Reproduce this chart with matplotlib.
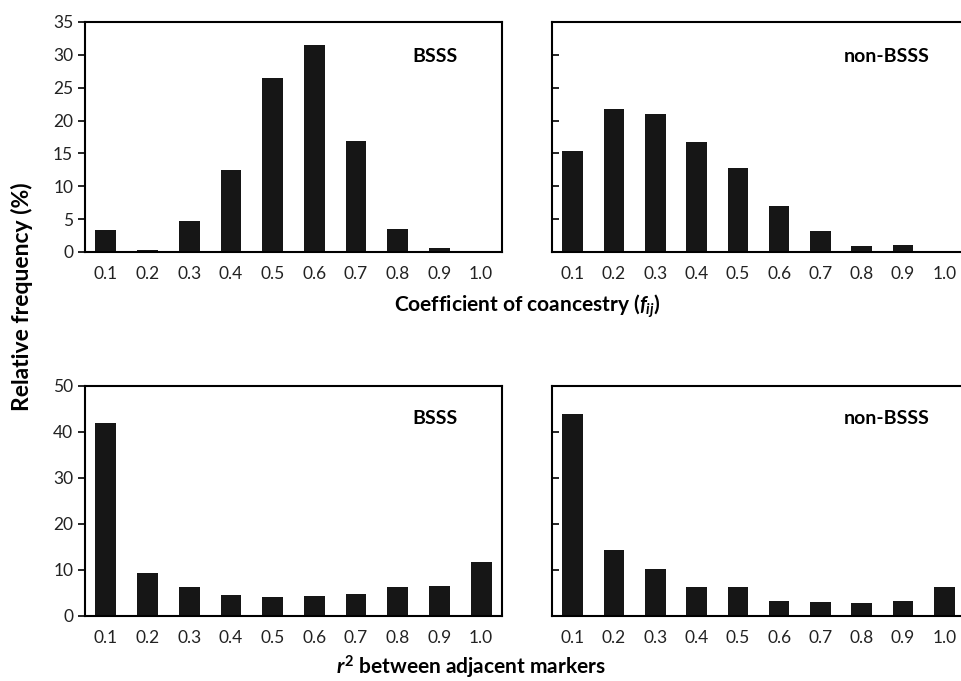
import numpy as np
import matplotlib.pyplot as plt

plt.rcParams['font.family'] = ['Lato', 'DejaVu Sans']
plt.rcParams['mathtext.fontset'] = 'custom'
plt.rcParams['mathtext.it'] = 'Lato:bold:italic'
plt.rcParams['mathtext.bf'] = 'Lato:bold'
plt.rcParams['mathtext.rm'] = 'Lato:bold'

cats = ['0.1', '0.2', '0.3', '0.4', '0.5', '0.6', '0.7', '0.8', '0.9', '1.0']

coan_bsss = [3.4, 0.3, 4.7, 12.5, 26.5, 31.5, 16.9, 3.45, 0.56, 0.0]
coan_non = [15.4, 21.8, 21.0, 16.7, 12.75, 7.06, 3.2, 0.86, 1.0, 0.0]
r2_bsss = [41.9, 9.4, 6.3, 4.6, 4.06, 4.3, 4.8, 6.2, 6.5, 11.8]
r2_non = [44.0, 14.3, 10.2, 6.3, 6.2, 3.3, 3.0, 2.8, 3.2, 6.3]

W, H = 962, 681
fig = plt.figure(figsize=(W / 100, H / 100), dpi=100)

def px_axes(x0, y0, x1, y1):
    return fig.add_axes([x0 / W, 1 - y1 / H, (x1 - x0) / W, (y1 - y0) / H])

def panel(ax, vals, ymax, step, label, lx, ly, left):
    x = np.arange(len(cats))
    ax.bar(x, vals, width=0.5, color='#161616')
    ax.set_xlim(-0.5, len(cats) - 0.5)
    ax.set_ylim(0, ymax)
    ax.set_yticks(np.arange(0, ymax + 1, step))
    ax.set_xticks(x)
    ax.set_xticklabels(cats, fontsize=12.5, color='#222222')
    ax.tick_params(axis='x', length=0, pad=10)
    if left:
        ax.tick_params(axis='y', direction='out', length=5, labelsize=12.5,
                       width=1.2, labelcolor='#222222')
    else:
        ax.tick_params(axis='y', direction='in', length=5, labelleft=False, width=1.2)
    for s in ax.spines.values():
        s.set_linewidth(1.5)
    ax.text(lx, ly, label, transform=ax.transAxes,
            ha='center', va='center', fontsize=14, fontweight='bold')

ax1 = px_axes(85, 22, 502, 252)
ax2 = px_axes(552, 22, 965, 252)
ax3 = px_axes(85, 386, 502, 616)
ax4 = px_axes(552, 386, 965, 616)

panel(ax1, coan_bsss, 35, 5, 'BSSS', 0.84, 0.852, True)
panel(ax2, coan_non, 35, 5, 'non-BSSS', 0.81, 0.852, False)
panel(ax3, r2_bsss, 50, 10, 'BSSS', 0.84, 0.857, True)
panel(ax4, r2_non, 50, 10, 'non-BSSS', 0.81, 0.857, False)

fig.text(527 / W, 1 - 306 / H, r'Coefficient of coancestry ($f_{ij}$)',
         ha='center', va='center', fontsize=15, fontweight='bold')
fig.text(471 / W, 1 - 667 / H, r'$r^{\mathbf{2}}$ between adjacent markers',
         ha='center', va='center', fontsize=15, fontweight='bold')
fig.text(22 / W, 1 - 297 / H, 'Relative frequency (%)', rotation=90,
         ha='center', va='center', fontsize=16.5, fontweight='bold')

fig.savefig('out.png', dpi=100)
